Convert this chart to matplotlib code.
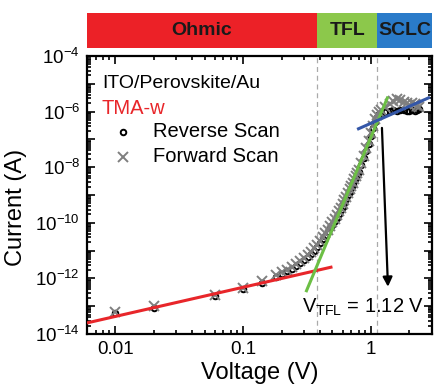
import numpy as np
import matplotlib
matplotlib.use('Agg')
import matplotlib.pyplot as plt
from matplotlib.ticker import FixedLocator, FuncFormatter, LogLocator, NullFormatter

plt.rcParams['font.family'] = ['Liberation Sans', 'DejaVu Sans']
plt.rcParams['mathtext.fontset'] = 'custom'
plt.rcParams['mathtext.rm'] = 'Liberation Sans'
plt.rcParams['mathtext.it'] = 'Liberation Sans:italic'
plt.rcParams['mathtext.bf'] = 'Liberation Sans:bold'

# measured J-V points (shared voltage grid), currents as log10(A)
voltage = [0.01, 0.02, 0.06, 0.10, 0.14,
           0.18, 0.20, 0.22, 0.24, 0.26, 0.28, 0.30, 0.32, 0.34, 0.36, 0.38, 0.40,
           0.42, 0.44, 0.46, 0.48, 0.50, 0.52, 0.54, 0.56, 0.58, 0.60, 0.62, 0.64,
           0.66, 0.68, 0.70, 0.72, 0.74, 0.76, 0.78, 0.80,
           0.84, 0.88, 0.92, 0.96, 1.00, 1.04, 1.08, 1.12, 1.16,
           1.20, 1.30, 1.40, 1.50, 1.60, 1.70, 1.80, 1.90, 2.00, 2.10, 2.20, 2.30, 2.40]
log_i_reverse = [-13.25, -13.05, -12.62, -12.38, -12.15,
                 -11.95, -11.85, -11.75, -11.66, -11.56, -11.45, -11.35, -11.24, -11.13, -11.00, -10.88, -10.74,
                 -10.60, -10.47, -10.34, -10.20, -10.07, -9.94, -9.81, -9.68, -9.55, -9.42, -9.28, -9.14,
                 -9.01, -8.88, -8.76, -8.63, -8.51, -8.40, -8.28, -8.17,
                 -7.92, -7.67, -7.42, -7.15, -6.88, -6.60, -6.38, -6.20, -6.10,
                 -6.05, -6.00, -5.98, -5.95, -5.97, -5.95, -5.93, -5.96, -5.98, -5.95, -5.97, -5.93, -5.90]
log_i_forward = [-13.20, -13.00, -12.60, -12.35, -12.10,
                 -11.88, -11.78, -11.68, -11.58, -11.48, -11.37, -11.27, -11.16, -11.04, -10.92, -10.79, -10.65,
                 -10.52, -10.38, -10.25, -10.12, -9.98, -9.85, -9.72, -9.59, -9.46, -9.33, -9.19, -9.06,
                 -8.93, -8.80, -8.68, -8.56, -8.44, -8.32, -8.20, -8.09,
                 -7.84, -7.58, -7.32, -7.05, -6.78, -6.50, -6.28, -6.12, -6.02,
                 -5.95, -5.85, -5.72, -5.60, -5.55, -5.58, -5.65, -5.70, -5.75, -5.70, -5.72, -5.78, -5.85]

# fitted lines (end points)
ohmic_v = [0.006, 0.5]
ohmic_i = [2.5e-14, 2.6e-12]
tfl_v = [0.31, 1.36]
tfl_i = [3.2e-13, 3.5e-6]
sclc_v = [0.78, 2.9]
sclc_i = [2.3e-7, 3.3e-6]

v_tfl_marks = [0.38, 1.12]
region_edges = [0.006, 0.38, 1.12, 3.0]
region_names = ['Ohmic', 'TFL', 'SCLC']
region_colors = ['#ec2127', '#8cc84b', '#2a7bc9']

fig = plt.figure(figsize=(4.45, 3.92), dpi=100)
ax = fig.add_axes([0.1955, 0.148, 0.775, 0.709])
bar = fig.add_axes([0.1955, 0.8776, 0.775, 0.089])

i_rev = 10.0 ** np.array(log_i_reverse)
i_fwd = 10.0 ** np.array(log_i_forward)

ax.plot(voltage, i_rev, 'o', ms=4, mfc='none', mec='black', mew=1.4, zorder=3)
ax.plot(voltage, i_fwd, 'x', ms=7, color='#7f7f7f', mew=1.4, zorder=3)

for v in v_tfl_marks:
    ax.axvline(v, color='#aaaaaa', ls='--', lw=0.9, dashes=(4, 3), zorder=1)

ax.plot(ohmic_v, ohmic_i, color='#e8262a', lw=2.2, zorder=4, solid_capstyle='butt')
ax.plot(tfl_v, tfl_i, color='#6cbf45', lw=2.2, zorder=4, solid_capstyle='butt')
ax.plot(sclc_v, sclc_i, color='#3457a8', lw=2.2, zorder=4, solid_capstyle='butt')

ax.annotate('', xy=(1.36, 5e-13), xytext=(1.22, 2.6e-7),
            arrowprops=dict(arrowstyle='-|>', color='black', lw=1.6,
                            mutation_scale=14, shrinkA=0, shrinkB=0), zorder=5)
ax.text(0.29, 9e-14, r'V$_{\mathrm{TFL}}$ = 1.12 V', fontsize=14.5, ha='left', va='center')

ax.set_xscale('log')
ax.set_yscale('log')
ax.set_xlim(0.006, 3.0)
ax.set_ylim(1e-14, 1e-4)

ax.xaxis.set_major_locator(FixedLocator([0.01, 0.1, 1]))
ax.xaxis.set_major_formatter(FuncFormatter(lambda v, p: {0.01: '0.01', 0.1: '0.1', 1: '1'}.get(round(v, 3), '')))
ax.xaxis.set_minor_locator(LogLocator(base=10, subs=np.arange(2, 10), numticks=20))
ax.xaxis.set_minor_formatter(NullFormatter())

ax.yaxis.set_major_locator(FixedLocator([10.0 ** k for k in range(-14, -3)]))
def ylab(v, p):
    k = int(round(np.log10(v)))
    return r'$10^{%d}$' % k if k % 2 == 0 else ''
ax.yaxis.set_major_formatter(FuncFormatter(ylab))
ax.yaxis.set_minor_locator(LogLocator(base=10, subs=np.arange(2, 10), numticks=30))
ax.yaxis.set_minor_formatter(NullFormatter())

ax.tick_params(which='both', direction='in', top=True, right=True, labelsize=13.5, width=1.2)
ax.tick_params(which='major', length=6, pad=5)
ax.tick_params(which='minor', length=3)
for s in ax.spines.values():
    s.set_linewidth(1.6)

ax.set_xlabel('Voltage (V)', fontsize=17, labelpad=3)
ax.set_ylabel('Current (A)', fontsize=17)
ax.yaxis.set_label_coords(-0.175, 0.455)

# legend written by hand
ax.text(0.043, 0.903, 'ITO/Perovskite/Au', transform=ax.transAxes, fontsize=14, va='center')
ax.text(0.043, 0.813, 'TMA-w', transform=ax.transAxes, fontsize=14.5, va='center', color='#e8262a')
ax.plot([0.104], [0.727], 'o', ms=4, mfc='none', mec='black', mew=1.4, transform=ax.transAxes)
ax.plot([0.104], [0.637], 'x', ms=7, color='#7f7f7f', mew=1.4, transform=ax.transAxes)
ax.text(0.191, 0.727, 'Reverse Scan', transform=ax.transAxes, fontsize=14.5, va='center')
ax.text(0.191, 0.637, 'Forward Scan', transform=ax.transAxes, fontsize=14.5, va='center')

# region bar on top
bar.set_xscale('log')
bar.set_xlim(0.006, 3.0)
bar.set_ylim(0, 1)
for k in range(3):
    lo, hi = region_edges[k], region_edges[k + 1]
    bar.axvspan(lo, hi, color=region_colors[k], lw=0)
    bar.text(np.sqrt(lo * hi), 0.5, region_names[k], ha='center', va='center',
             fontsize=14, fontweight='bold', color='#1a1a1a')
bar.axis('off')

fig.savefig('out.png', dpi=100)
